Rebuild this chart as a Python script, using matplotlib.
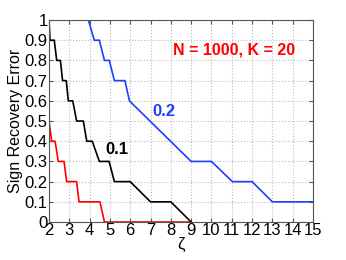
import matplotlib.pyplot as plt

plt.rcParams['font.family'] = ['Liberation Sans', 'DejaVu Sans']

zeta_01 = [2.0, 2.05, 2.26, 2.38, 2.56, 2.67, 2.85, 2.95, 3.17, 3.36, 3.69, 3.86, 4.13, 4.48, 4.96, 5.22, 6.0, 7.0, 8.0, 9.0]
err_01 = [1.0, 0.9, 0.9, 0.8, 0.8, 0.7, 0.7, 0.6, 0.6, 0.5, 0.5, 0.4, 0.4, 0.3, 0.3, 0.2, 0.2, 0.1, 0.1, 0.0]

zeta_005 = [2.0, 2.13, 2.3, 2.46, 2.74, 2.87, 3.36, 3.48, 4.51, 4.73, 9.0]
err_005 = [0.5, 0.4, 0.4, 0.3, 0.3, 0.2, 0.2, 0.1, 0.1, 0.0, 0.0]

zeta_02 = [2.0, 3.94, 4.23, 4.48, 4.73, 4.97, 5.22, 5.74, 5.96, 9.0, 10.0, 11.03, 12.0, 13.0, 15.0]
err_02 = [1.0, 1.0, 0.9, 0.9, 0.8, 0.8, 0.7, 0.7, 0.6, 0.3, 0.3, 0.2, 0.2, 0.1, 0.1]

xticks = list(range(2, 16))
yticks = [0, 0.1, 0.2, 0.3, 0.4, 0.5, 0.6, 0.7, 0.8, 0.9, 1]
ylabels = ['0', '0.1', '0.2', '0.3', '0.4', '0.5', '0.6', '0.7', '0.8', '0.9', '1']

fig = plt.figure(figsize=(3.46, 2.60), dpi=100)
ax = fig.add_axes([0.1416, 0.146, 0.763, 0.777])

ax.plot(zeta_005, err_005, color='red', lw=1.2)
ax.plot(zeta_01, err_01, color='black', lw=1.2)
ax.plot(zeta_02, err_02, color='#1f3dff', lw=1.2)

ax.set_xlim(2, 15)
ax.set_ylim(0, 1)
ax.set_xticks(xticks)
ax.set_yticks(yticks)
ax.set_yticklabels(ylabels)
ax.tick_params(direction='in', length=3, labelsize=12, pad=1, top=True, right=True,
               color='#555555')
ax.grid(True, linestyle=':', color='#bbbbbb', lw=0.8)
for s in ax.spines.values():
    s.set_color('#555555')

ax.set_xlabel('ζ', fontsize=12, labelpad=-1)
ax.set_ylabel('Sign Recovery Error', fontsize=11.5, labelpad=1)

ax.text(11.1, 0.85, 'N = 1000, K = 20', color='red', fontsize=11.5, fontweight='bold',
        ha='center', va='center')
ax.text(7.67, 0.545, '0.2', color='#1f3dff', fontsize=12, fontweight='bold',
        ha='center', va='center')
ax.text(5.35, 0.357, '0.1', color='black', fontsize=12, fontweight='bold',
        ha='center', va='center')

fig.savefig('out.png', dpi=100)
